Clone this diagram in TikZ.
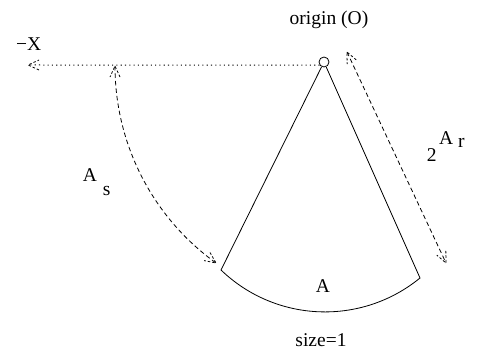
\documentclass[tikz,border=0pt]{standalone}
\usepackage{fontspec}
\setmainfont{Liberation Serif}
\usetikzlibrary{decorations.markings}
\begin{document}
\begin{tikzpicture}[x=1pt,y=1pt,
  every node/.style={font=\fontsize{19.5pt}{23pt}\selectfont, inner sep=0pt},
  solidline/.style={line width=0.8pt},
  dashline/.style={line width=0.8pt, dash pattern=on 4.5pt off 3pt},
  dotline/.style={line width=1pt, dash pattern=on 1.1pt off 3.2pt},
  tipend/.style={postaction={decorate}, decoration={markings,
     mark=at position 0.9999 with {\draw[line width=0.8pt, dash pattern=on 2.5pt off 2pt] (-11pt,5pt) -- (0,0) -- (-11pt,-5pt);}}},
  tipboth/.style={postaction={decorate}, decoration={markings,
     mark=at position 0.0001 with {\draw[line width=0.8pt, dash pattern=on 2.5pt off 2pt] (11pt,5pt) -- (0,0) -- (11pt,-5pt);},
     mark=at position 0.9999 with {\draw[line width=0.8pt, dash pattern=on 2.5pt off 2pt] (-11pt,5pt) -- (0,0) -- (-11pt,-5pt);}}}
]
\useasboundingbox (0,0) rectangle (477,356);
% origin circle
\node[draw, circle, solidline, minimum size=10pt, inner sep=0pt] (O) at (324,294) {};
\coordinate (L) at (221,86);
\coordinate (R) at (420,78);
\coordinate (X) at (28,291);
\coordinate (S1) at (115,290);
\coordinate (T1) at (347,304);
\coordinate (T2) at (446,93);
% sector
\draw[solidline] (O) -- (L) arc[start angle=226.1, end angle=309.3, radius=150pt] -- (O);
% dotted -X axis
\draw[dotline, tipend] (O.215) -- (X);
% A_s arc
\draw[dashline, tipboth] (S1) arc[start angle=180, end angle=234.3, radius=242.6pt];
% 2^A r arrow
\draw[dashline, tipboth] (T1) -- (T2);
% labels
\node[anchor=base] (lo) at (329,331) {origin (O)};
\node[anchor=base west] (lx) at (16,305) {−X};
\node[anchor=base west] (las) at (82.7,174) {A};
\node[anchor=base west] (lss) at (102.7,160) {s};
\node[anchor=base west] (l2) at (426.7,194) {2};
\node[anchor=base west] (lar) at (439,211) {A};
\node[anchor=base west] (lr) at (458,208) {r};
\node[anchor=base] (la) at (323,63) {A};
\node[anchor=base] (lsize) at (321,9.3) {size=1};
\end{tikzpicture}
\end{document}
